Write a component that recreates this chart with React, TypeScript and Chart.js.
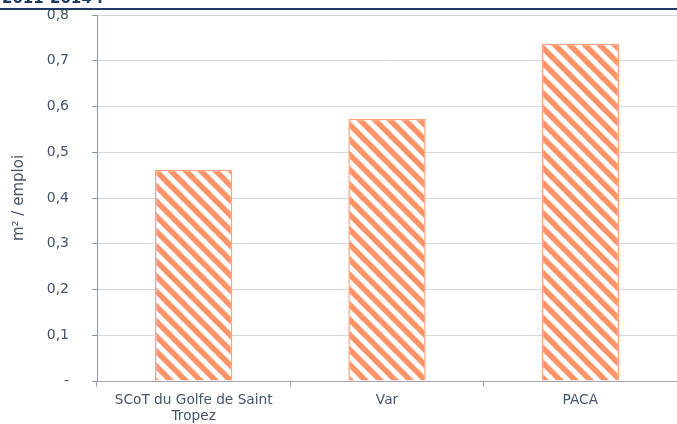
import React, { useEffect, useRef } from "react";
import { Chart, registerables } from "chart.js";

Chart.register(...registerables);

const categories: (string | string[])[] = [["SCoT du Golfe de Saint", "Tropez"], "Var", "PACA"];
const values: number[] = [0.462, 0.573, 0.737];
const yTicksMax = 0.8;
const yStep = 0.1;
const yTitle = "m² / emploi";
const cutTitle = "2011-2014 :";

const FONT = "'DejaVu Sans', Verdana, sans-serif";

function makePattern(): CanvasPattern | string {
  const size = 15;
  const c = document.createElement("canvas");
  c.width = size;
  c.height = size;
  const ctx = c.getContext("2d");
  if (!ctx) return "#ff9468";
  ctx.fillStyle = "#ffffff";
  ctx.fillRect(0, 0, size, size);
  ctx.strokeStyle = "#ff9468";
  ctx.lineWidth = 5.5;
  for (const off of [-size, 0, size]) {
    ctx.beginPath();
    ctx.moveTo(off - 2, -2);
    ctx.lineTo(off + size + 2, size + 2);
    ctx.stroke();
  }
  const p = ctx.createPattern(c, "repeat");
  return p || "#ff9468";
}

const topBand = {
  id: "topBand",
  afterDraw(chart: any) {
    const ctx = chart.ctx;
    ctx.save();
    ctx.fillStyle = "#1f3864";
    ctx.font = "bold 15px " + FONT;
    ctx.textBaseline = "alphabetic";
    ctx.textAlign = "left";
    ctx.fillText(cutTitle, 2, 3);
    ctx.strokeStyle = "#1f3864";
    ctx.lineWidth = 2;
    ctx.beginPath();
    ctx.moveTo(0, 9);
    ctx.lineTo(chart.width, 9);
    ctx.stroke();
    ctx.restore();
  },
};

export default function App() {
  const ref = useRef<HTMLCanvasElement>(null);
  useEffect(() => {
    document.body.style.margin = "0";
    if (!ref.current) return;
    const pattern = makePattern();
    const chart = new Chart(ref.current, {
      type: "bar",
      data: {
        labels: categories,
        datasets: [
          {
            data: values,
            backgroundColor: pattern as any,
            borderColor: "#ffa07e",
            borderWidth: 1.5,
            barPercentage: 0.4,
            categoryPercentage: 1,
          },
        ],
      },
      options: {
        animation: false,
        responsive: false,
        maintainAspectRatio: false,
        layout: { padding: { top: 15, right: 0, left: 0, bottom: 0 } },
        plugins: { legend: { display: false }, tooltip: { enabled: false } },
        scales: {
          x: {
            afterFit(scale: any) {
              scale.height = 43;
              scale.paddingLeft = 0;
              scale.paddingRight = 0;
            },
            grid: {
              drawOnChartArea: false,
              drawTicks: true,
              tickLength: 6,
              color: "#a6a6b8",
            },
            border: { color: "#a6a6b8", width: 1 },
            ticks: {
              color: "#44546a",
              font: { family: FONT, size: 13.7, lineHeight: 1.2 },
              maxRotation: 0,
              padding: 5,
            },
          },
          y: {
            min: 0,
            max: yTicksMax,
            afterFit(scale: any) {
              scale.width = 97;
              scale.paddingTop = 0;
              scale.paddingBottom = 0;
            },
            title: {
              display: true,
              text: yTitle,
              color: "#44546a",
              padding: { top: 10, bottom: 0 },
              font: { family: FONT, size: 15 },
            },
            grid: {
              color: "#d9d9d9",
              tickColor: "#8497b0",
              tickLength: 5,
            },
            border: { color: "#8497b0", width: 1 },
            ticks: {
              stepSize: yStep,
              color: "#44546a",
              padding: 23,
              font: { family: FONT, size: 14 },
              callback: (v: any) => (Number(v) === 0 ? "-" : Number(v).toFixed(1).replace(".", ",")),
            },
          },
        },
      },
      plugins: [topBand],
    });
    return () => chart.destroy();
  }, []);
  return (
    <div style={{ position: "fixed", left: 0, top: 0, width: 677, height: 424, background: "#fff" }}>
      <canvas ref={ref} width={677} height={424} />
    </div>
  );
}
